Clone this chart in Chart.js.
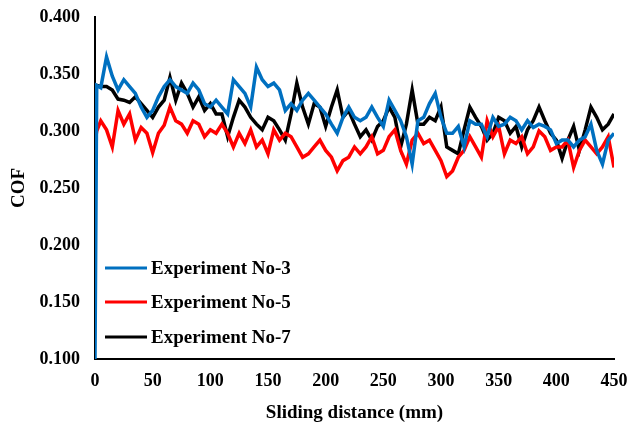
<!DOCTYPE html>
<html>
<head>
<meta charset="utf-8">
<script src="https://cdn.jsdelivr.net/npm/chart.js@4.4.1/dist/chart.umd.min.js"></script>
<style>
  html, body { margin: 0; padding: 0; background: #fff; }
  #wrap { width: 630px; height: 432px; }
</style>
</head>
<body>
<div id="wrap"><canvas id="cof"></canvas></div>
<script>
// sliding distance (mm)
const distance = [
  0, 1.5, 5, 10, 15, 20, 25, 30, 35, 40, 45, 50, 55, 60, 65, 70, 75, 80, 85, 90, 95,
  100, 105, 110, 115, 120, 125, 130, 135, 140, 145, 150, 155, 160, 165, 170, 175, 180, 185, 190, 195,
  200, 205, 210, 215, 220, 225, 230, 235, 240, 245, 250, 255, 260, 265, 270, 275, 280, 285, 290, 295,
  300, 305, 310, 315, 320, 325, 330, 335, 340, 345, 350, 355, 360, 365, 370, 375, 380, 385, 390, 395,
  400, 405, 410, 415, 420, 425, 430, 435, 440, 445, 450
];

const exp3 = [
  0.100, 0.340, 0.338, 0.365, 0.348, 0.336, 0.345, 0.339, 0.333, 0.321, 0.312, 0.318, 0.330, 0.339, 0.345, 0.339, 0.336, 0.333, 0.342, 0.336, 0.324,
  0.321, 0.327, 0.321, 0.315, 0.345, 0.339, 0.333, 0.321, 0.356, 0.345, 0.339, 0.342, 0.336, 0.318, 0.324, 0.318, 0.327, 0.333, 0.327, 0.321,
  0.315, 0.306, 0.298, 0.312, 0.321, 0.312, 0.309, 0.312, 0.321, 0.312, 0.304, 0.327, 0.318, 0.309, 0.295, 0.271, 0.309, 0.312, 0.324, 0.333,
  0.312, 0.298, 0.298, 0.304, 0.286, 0.309, 0.306, 0.306, 0.295, 0.312, 0.304, 0.306, 0.312, 0.309, 0.301, 0.309, 0.303, 0.306, 0.304, 0.301,
  0.289, 0.292, 0.292, 0.286, 0.292, 0.295, 0.306, 0.283, 0.271, 0.292, 0.298
];

const exp5 = [
  0.290, 0.300, 0.309, 0.301, 0.286, 0.318, 0.306, 0.315, 0.292, 0.303, 0.298, 0.281, 0.298, 0.305, 0.321, 0.309, 0.306, 0.298, 0.309, 0.306, 0.295,
  0.301, 0.298, 0.306, 0.298, 0.286, 0.298, 0.289, 0.301, 0.286, 0.292, 0.280, 0.301, 0.292, 0.298, 0.295, 0.286, 0.277, 0.280, 0.286, 0.292,
  0.283, 0.277, 0.265, 0.274, 0.277, 0.286, 0.280, 0.286, 0.295, 0.280, 0.283, 0.295, 0.301, 0.283, 0.271, 0.292, 0.298, 0.289, 0.292, 0.283,
  0.274, 0.260, 0.265, 0.277, 0.283, 0.295, 0.286, 0.277, 0.309, 0.295, 0.304, 0.280, 0.292, 0.289, 0.295, 0.280, 0.286, 0.300, 0.295, 0.283,
  0.286, 0.286, 0.292, 0.268, 0.283, 0.292, 0.286, 0.280, 0.286, 0.295, 0.268
];

const exp7 = [
  0.335, 0.340, 0.339, 0.339, 0.336, 0.328, 0.327, 0.325, 0.330, 0.324, 0.318, 0.312, 0.321, 0.327, 0.347, 0.327, 0.342, 0.333, 0.321, 0.330, 0.318,
  0.324, 0.315, 0.315, 0.295, 0.312, 0.327, 0.321, 0.312, 0.306, 0.301, 0.312, 0.309, 0.301, 0.292, 0.315, 0.342, 0.321, 0.306, 0.324, 0.321,
  0.304, 0.321, 0.336, 0.312, 0.318, 0.306, 0.295, 0.301, 0.292, 0.304, 0.309, 0.321, 0.312, 0.286, 0.306, 0.336, 0.306, 0.306, 0.312, 0.309,
  0.321, 0.286, 0.283, 0.280, 0.301, 0.321, 0.312, 0.304, 0.292, 0.298, 0.312, 0.309, 0.298, 0.304, 0.286, 0.301, 0.309, 0.321, 0.309, 0.298,
  0.292, 0.276, 0.292, 0.304, 0.283, 0.301, 0.321, 0.312, 0.301, 0.306, 0.315
];

const yTicks = [0.100, 0.150, 0.200, 0.250, 0.300, 0.350, 0.400];
const xTicks = [0, 50, 100, 150, 200, 250, 300, 350, 400, 450];

const serif = "'Liberation Serif', 'Times New Roman', serif";

function pts(values) {
  return distance.map((d, i) => ({ x: d, y: values[i] }));
}

// legend drawn inside the plot, lower left
const insideLegend = {
  id: 'insideLegend',
  afterDraw(chart) {
    const ctx = chart.ctx;
    const rows = [268, 302, 337];
    ctx.save();
    ctx.font = "bold 19px " + serif;
    ctx.textBaseline = 'middle';
    chart.data.datasets.forEach((ds, i) => {
      const y = rows[i];
      ctx.strokeStyle = ds.borderColor;
      ctx.lineWidth = 3;
      ctx.beginPath();
      ctx.moveTo(105, y);
      ctx.lineTo(147, y);
      ctx.stroke();
      ctx.fillStyle = '#000';
      ctx.fillText(ds.label, 151, y + 1);
    });
    ctx.restore();
  }
};

new Chart(document.getElementById('cof'), {
  type: 'line',
  data: {
    datasets: [
      { label: 'Experiment No-3', data: pts(exp3), borderColor: '#0070C0' },
      { label: 'Experiment No-5', data: pts(exp5), borderColor: '#FF0000' },
      { label: 'Experiment No-7', data: pts(exp7), borderColor: '#000000' }
    ]
  },
  options: {
    responsive: true,
    maintainAspectRatio: false,
    animation: false,
    layout: { padding: { top: 17, right: 16, left: 0, bottom: 0 } },
    elements: {
      line: { borderWidth: 3.5, tension: 0 },
      point: { radius: 0 }
    },
    plugins: {
      legend: { display: false },
      tooltip: { enabled: false }
    },
    scales: {
      x: {
        type: 'linear',
        min: 0,
        max: 450,
        afterBuildTicks: (axis) => { axis.ticks = xTicks.map(v => ({ value: v })); },
        afterFit: (axis) => {
          axis.height = 73;
          axis.paddingLeft = 0;
          axis.paddingRight = 0;
        },
        grid: { display: false, drawTicks: false },
        border: { display: true, color: '#000', width: 2 },
        ticks: {
          color: '#000',
          padding: 12,
          maxRotation: 0,
          font: { family: serif, size: 18, weight: 'bold' }
        },
        title: {
          display: true,
          text: 'Sliding distance (mm)',
          color: '#000',
          padding: { top: 8, bottom: 8 },
          font: { family: serif, size: 19, weight: 'bold' }
        }
      },
      y: {
        min: 0.1,
        max: 0.4,
        afterBuildTicks: (axis) => { axis.ticks = yTicks.map(v => ({ value: v })); },
        afterFit: (axis) => {
          axis.width = 95;
          axis.paddingTop = 0;
          axis.paddingBottom = 0;
        },
        grid: { display: false, drawTicks: false },
        border: { display: true, color: '#000', width: 2 },
        ticks: {
          color: '#000',
          padding: 15,
          callback: (v) => v.toFixed(3),
          font: { family: serif, size: 18, weight: 'bold' }
        },
        title: {
          display: true,
          text: 'COF',
          color: '#000',
          padding: { top: 8, bottom: 0 },
          font: { family: serif, size: 19, weight: 'bold' }
        }
      }
    }
  },
  plugins: [insideLegend]
});
</script>
</body>
</html>
